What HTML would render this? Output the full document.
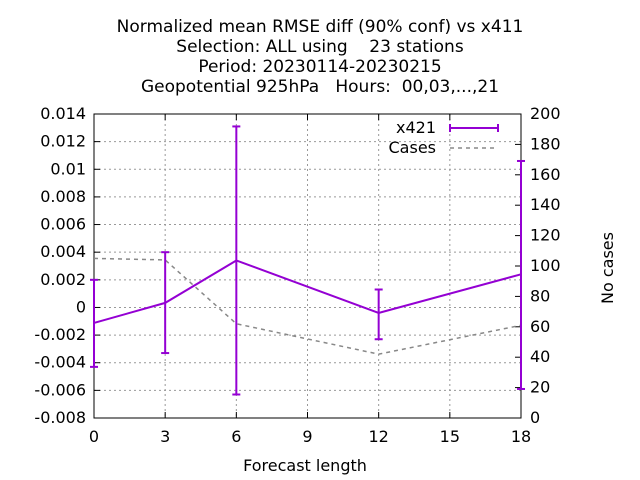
<!DOCTYPE html>
<html><head><meta charset="utf-8"><style>
body{margin:0;background:#fff;}
svg{display:block;font-family:"DejaVu Sans","Liberation Sans",sans-serif;}
</style></head><body>
<svg id="chart" width="640" height="480">
<defs><clipPath id="pc"><rect x="90" y="110" width="435" height="312"/></clipPath></defs>
<g font-size="17" text-anchor="middle" fill="#000">
<text x="320" y="32">Normalized mean RMSE diff (90% conf) vs x411</text>
<text x="320" y="52" xml:space="preserve">Selection: ALL using    23 stations</text>
<text x="320" y="72">Period: 20230114-20230215</text>
<text x="320" y="92" xml:space="preserve">Geopotential 925hPa   Hours:  00,03,...,21</text>
</g>
<g id="grid"></g>
<g id="axes"></g>
<g id="series" clip-path="url(#pc)"></g>
<text x="305" y="471" font-size="16" text-anchor="middle">Forecast length</text>
<text transform="translate(613,268) rotate(-90)" font-size="16" text-anchor="middle">No cases</text>
<g font-size="16">
<g>
<text x="436" y="133" text-anchor="end">x421</text>
<line x1="450" y1="128" x2="498" y2="128" stroke="#9400d3" stroke-width="2"/>
<line x1="450" y1="124" x2="450" y2="132" stroke="#9400d3" stroke-width="2"/>
<line x1="498" y1="124" x2="498" y2="132" stroke="#9400d3" stroke-width="2"/>
</g>
<g>
<text x="436" y="153" text-anchor="end">Cases</text>
<line x1="450" y1="148" x2="498" y2="148" stroke="#888" stroke-width="1.5" stroke-dasharray="4,4"/>
</g>
</g>
</svg>
<script>
const xValues=[0,3,6,12,18];
const x421=[-0.00112,0.00033,0.0034,-0.0004,0.0024];
const errLow=[-0.0043,-0.0033,-0.0063,-0.0023,-0.0059];
const errHigh=[0.0020,0.0040,0.0131,0.0013,0.0106];
const cases=[105,104,62,42,61];
const xTicks=[0,3,6,9,12,15,18];
const yTicks=[-0.008,-0.006,-0.004,-0.002,0,0.002,0.004,0.006,0.008,0.01,0.012,0.014];
const y2Ticks=[0,20,40,60,80,100,120,140,160,180,200];
const L=94,R=521,T=114,B=418;
const xs=v=>L+(v-0)/18*(R-L);
const ys=v=>B-(v+0.008)/0.022*(B-T);
const y2s=v=>B-v/200*(B-T);
const NS="http://www.w3.org/2000/svg";
function mk(tag,attrs,parent){const e=document.createElementNS(NS,tag);for(const k in attrs)e.setAttribute(k,attrs[k]);parent.appendChild(e);return e;}
const grid=document.getElementById('grid'),axes=document.getElementById('axes'),ser=document.getElementById('series');
yTicks.forEach((t,i)=>{const y=ys(t);
 if(i>0&&i<yTicks.length-1){const g=mk('line',{x1:L,x2:R,y1:y,y2:y,stroke:'#999','stroke-dasharray':'2,3','stroke-width':1},grid);
 
 }
 mk('line',{x1:L,x2:L+6,y1:y,y2:y,stroke:'#000'},axes);
 const tx=mk('text',{x:86,y:y+5,'font-size':16,'text-anchor':'end'},axes);
 tx.textContent=(t===0?'0':String(+t.toFixed(3)));
 
 
});
xTicks.forEach((t,i)=>{const x=xs(t);
 if(i>0&&i<xTicks.length-1){const g=mk('line',{x1:x,x2:x,y1:T,y2:B,stroke:'#999','stroke-dasharray':'2,3','stroke-width':1},grid);
 
 }
 mk('line',{x1:x,x2:x,y1:B,y2:B-6,stroke:'#000'},axes);
 mk('line',{x1:x,x2:x,y1:T,y2:T+6,stroke:'#000'},axes);
 const tx=mk('text',{x:x,y:442,'font-size':16,'text-anchor':'middle'},axes);
 tx.textContent=t;
 
 
});
y2Ticks.forEach(t=>{const y=y2s(t);
 mk('line',{x1:R,x2:R-6,y1:y,y2:y,stroke:'#000'},axes);
 const tx=mk('text',{x:530,y:y+5,'font-size':16,'text-anchor':'start'},axes);
 tx.textContent=t;
 
 
});
mk('rect',{x:L,y:T,width:R-L,height:B-T,fill:'none',stroke:'#000'},axes);
const cp=mk('polyline',{points:xValues.map((v,i)=>xs(v)+','+y2s(cases[i])).join(' '),fill:'none',stroke:'#888','stroke-width':1.5,'stroke-dasharray':'4,4'},ser);


const lp=mk('polyline',{points:xValues.map((v,i)=>xs(v)+','+ys(x421[i])).join(' '),fill:'none',stroke:'#9400d3','stroke-width':2},ser);


xValues.forEach((v,i)=>{const x=xs(v);
 const g=mk('g',{stroke:'#9400d3','stroke-width':2},ser);
 
 
 mk('line',{x1:x,x2:x,y1:ys(errLow[i]),y2:ys(errHigh[i])},g);
 mk('line',{x1:x-4,x2:x+4,y1:ys(errLow[i]),y2:ys(errLow[i])},g);
 mk('line',{x1:x-4,x2:x+4,y1:ys(errHigh[i]),y2:ys(errHigh[i])},g);
});
</script>
</body></html>
